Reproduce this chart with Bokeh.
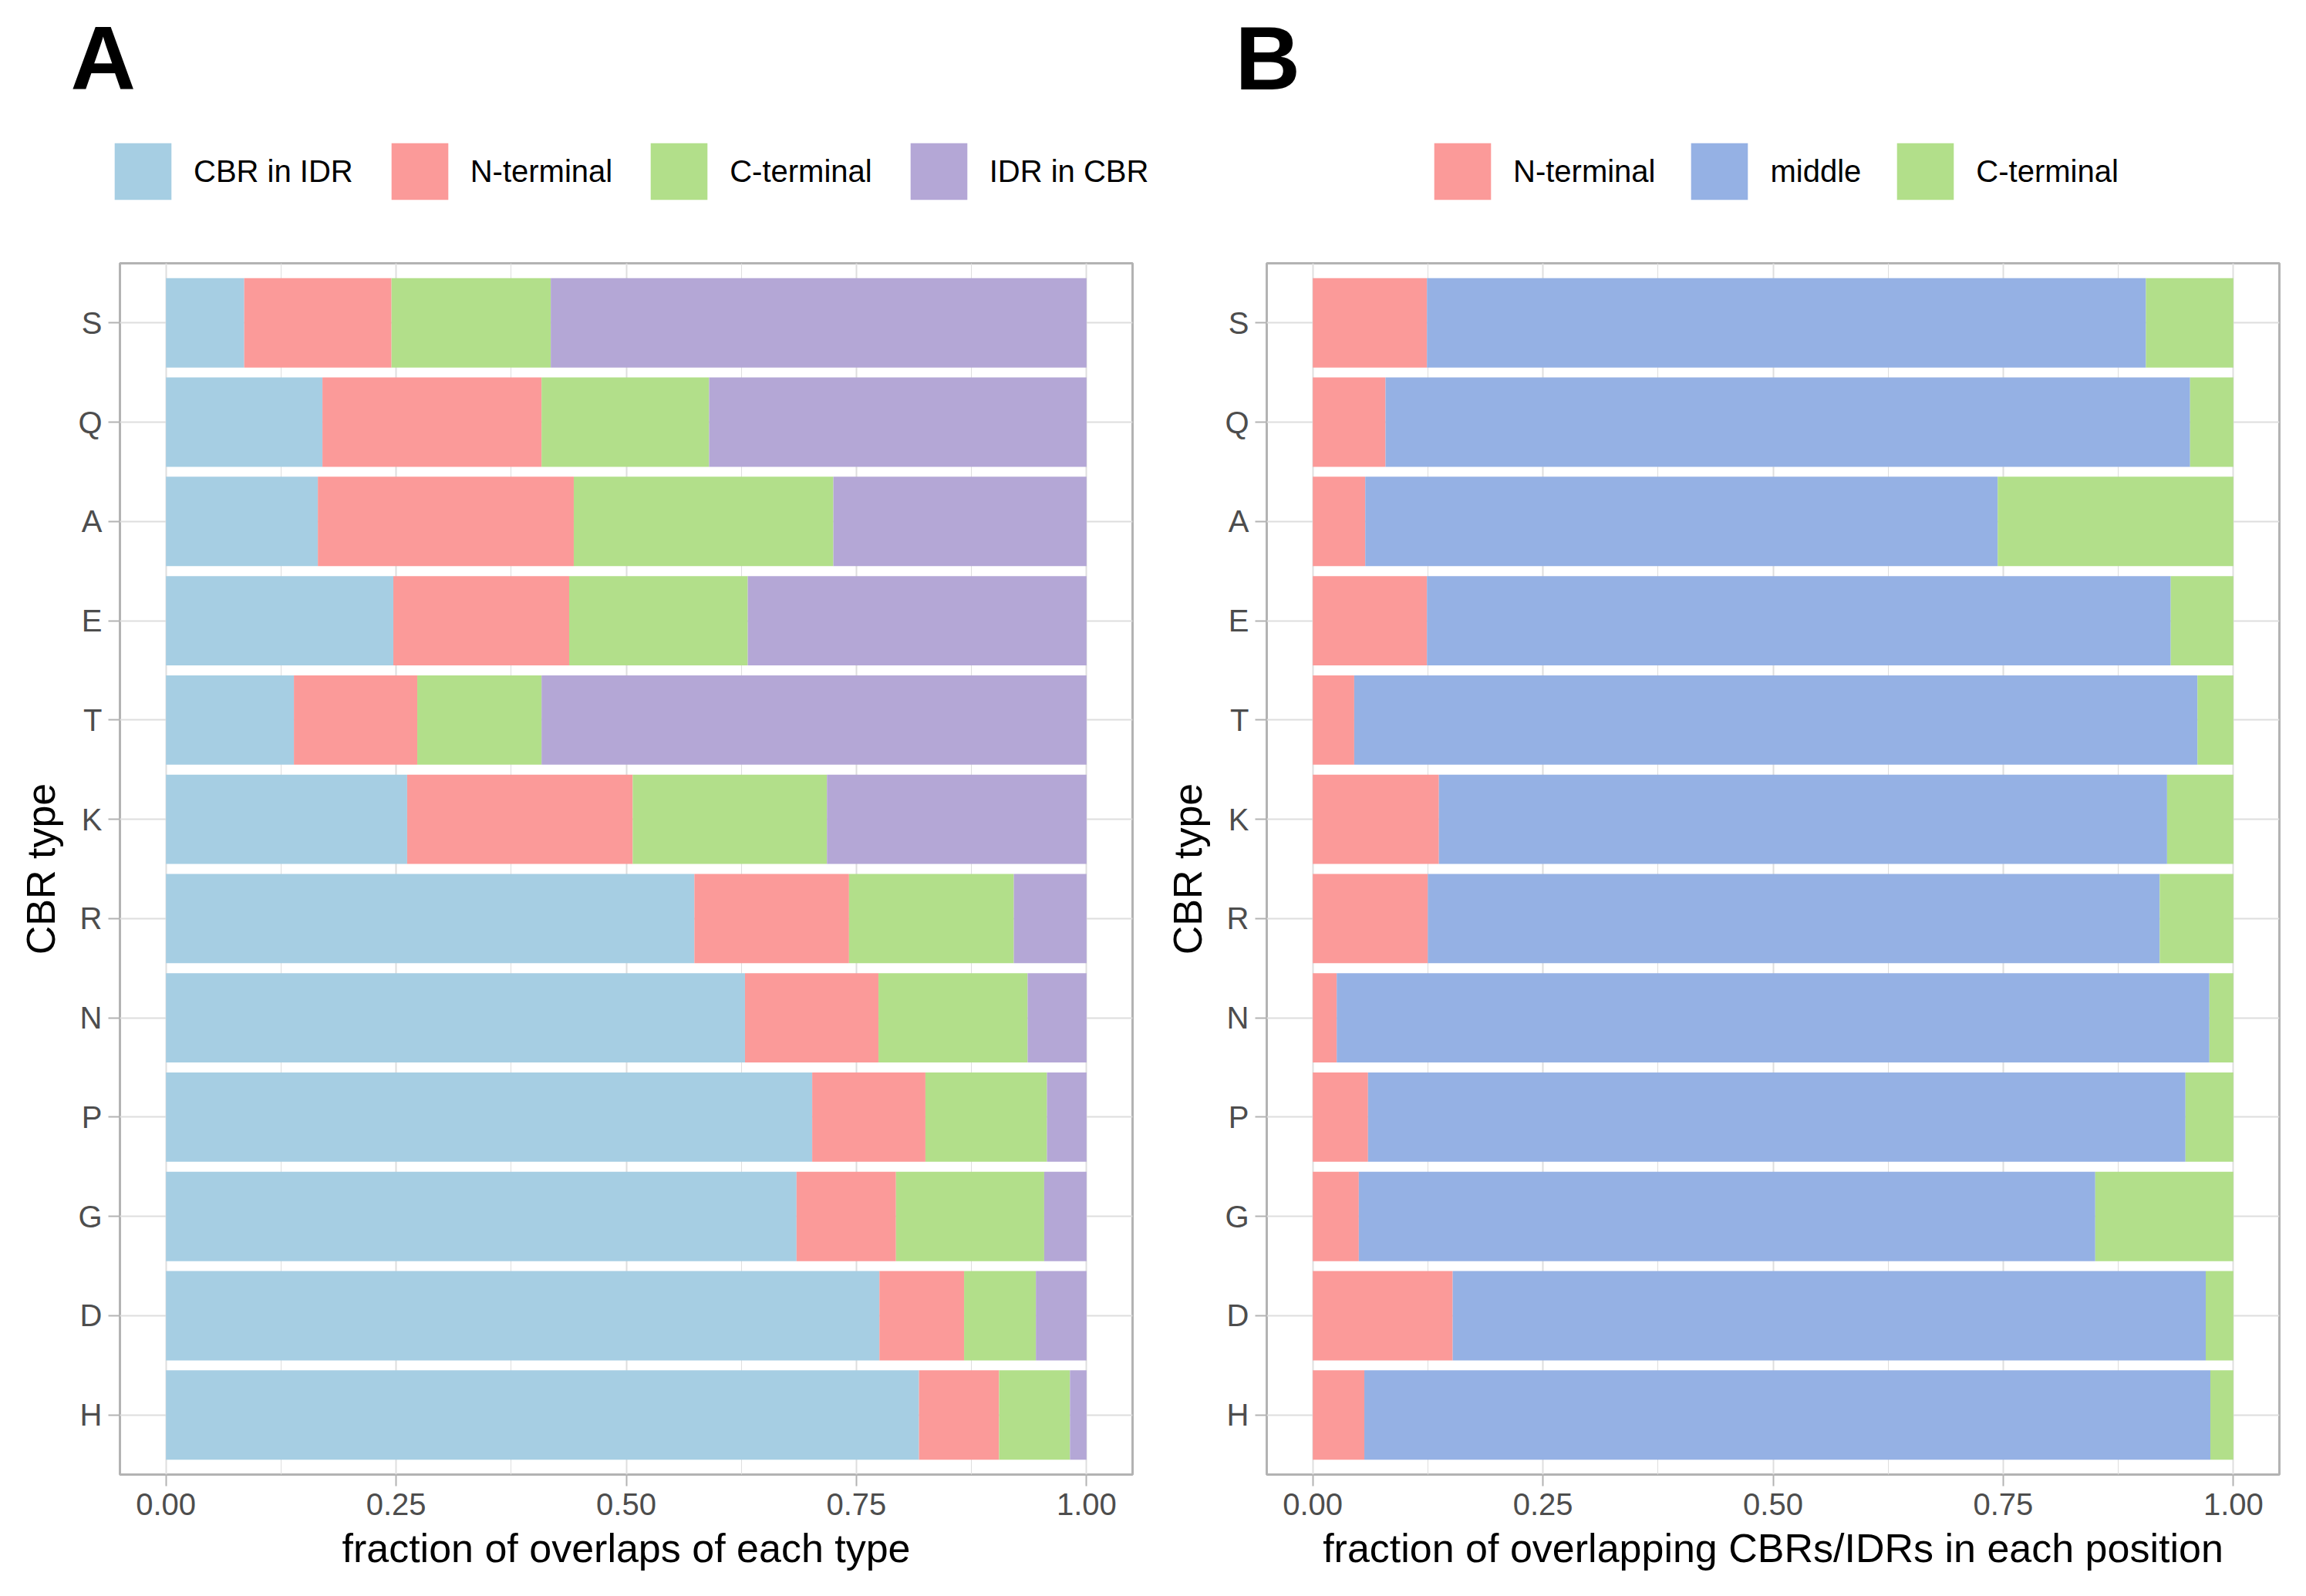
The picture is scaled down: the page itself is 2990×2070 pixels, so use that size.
from bokeh.plotting import figure
from bokeh.models import (Range1d, FactorRange, ColumnDataSource, Legend, LegendItem,
                          Label, FixedTicker)
from bokeh.layouts import row, column
from bokeh.embed import file_html
from bokeh.resources import INLINE

# ---------------- data ----------------
cbr_types = ["S", "Q", "A", "E", "T", "K", "R", "N", "P", "G", "D", "H"]

# Panel A: fraction of overlaps of each type (segments, left to right)
a_series = ["CBR in IDR", "N-terminal", "C-terminal", "IDR in CBR"]
a_cbr_in_idr = [0.085, 0.170, 0.165, 0.247, 0.139, 0.262, 0.574, 0.629, 0.702, 0.685, 0.775, 0.818]
a_n_terminal = [0.160, 0.238, 0.278, 0.191, 0.134, 0.245, 0.168, 0.145, 0.123, 0.108, 0.092, 0.087]
a_c_terminal = [0.173, 0.182, 0.282, 0.194, 0.135, 0.211, 0.179, 0.162, 0.132, 0.161, 0.078, 0.077]
a_idr_in_cbr = [0.582, 0.410, 0.275, 0.368, 0.592, 0.282, 0.079, 0.064, 0.043, 0.046, 0.055, 0.018]

# Panel B: fraction of overlapping CBRs/IDRs in each position
b_series = ["N-terminal", "middle", "C-terminal"]
b_n_terminal = [0.124, 0.079, 0.057, 0.124, 0.045, 0.137, 0.125, 0.026, 0.060, 0.050, 0.152, 0.056]
b_middle     = [0.781, 0.874, 0.687, 0.808, 0.916, 0.791, 0.795, 0.948, 0.888, 0.800, 0.818, 0.919]
b_c_terminal = [0.095, 0.047, 0.256, 0.068, 0.039, 0.072, 0.080, 0.026, 0.052, 0.150, 0.030, 0.025]

x_ticks = [0.0, 0.25, 0.5, 0.75, 1.0]
x_tick_labels = ["0.00", "0.25", "0.50", "0.75", "1.00"]
x_minor_ticks = [0.125, 0.375, 0.625, 0.875]

a_colors = ["#A6CEE3", "#FB9A99", "#B2DF8A", "#B4A7D6"]
b_colors = ["#FB9A99", "#95B1E4", "#B2DF8A"]

FONT = "Liberation Sans"
GRID = "#DEDEDE"
FRAME = "#B3B3B3"
HEADER_H = 331
KEY_BOX = 92          # legend glyph box (the drawn key is inset by 10% per side)
INSET = 9


def make_header(series, colors, letter, letter_x, legend_x, spacing):
    h = figure(width=1495, height=HEADER_H, x_range=Range1d(0, 1495),
               y_range=Range1d(0, HEADER_H), x_axis_type=None, y_axis_type=None,
               min_border=0, title=None, toolbar_location=None,
               output_backend="svg")
    h.outline_line_color = None
    h.background_fill_color = "white"
    h.border_fill_color = "white"
    rs = []
    for c in colors:
        rs.append(h.hbar(y=[-1000], left=[0], right=[1], height=1,
                         fill_color=c, line_color=None))
    items = [LegendItem(label=s, renderers=[r]) for s, r in zip(series, rs)]
    legend = Legend(items=items, orientation="horizontal",
                    location=(legend_x - INSET, HEADER_H - 259 - INSET),
                    glyph_width=KEY_BOX, glyph_height=KEY_BOX, label_standoff=20,
                    spacing=spacing, padding=0, margin=0,
                    border_line_color=None, background_fill_alpha=0,
                    label_text_font=FONT, label_text_font_size="40px",
                    label_text_color="black", label_text_baseline="middle")
    h.add_layout(legend, "center")
    h.add_layout(Label(x=letter_x, y=HEADER_H - 119 + 44, text=letter, text_font=FONT,
                       text_font_size="117px", text_font_style="bold",
                       text_color="black", text_baseline="alphabetic",
                       text_align="left"))
    return h


def make_panel(values, colors, xlabel, left, right):
    data = {"cbr": cbr_types}
    keys = []
    for i, v in enumerate(values):
        k = "s%d" % i
        data[k] = v
        keys.append(k)
    src = ColumnDataSource(data)

    p = figure(width=1495, height=10 + 1571 + 150,
               x_range=Range1d(-0.05, 1.05),
               y_range=FactorRange(factors=list(reversed(cbr_types)),
                                   range_padding=1.0 / 60, range_padding_units="percent"),
               output_backend="svg", toolbar_location=None, title=None,
               min_border_left=left, min_border_right=right,
               min_border_top=10, min_border_bottom=150)
    p.background_fill_color = "white"
    p.border_fill_color = "white"
    p.outline_line_color = FRAME
    p.outline_line_width = 3

    p.hbar_stack(keys, y="cbr", height=0.9, color=colors, line_width=0,
                 line_color=None, source=src)

    ticker = FixedTicker(ticks=x_ticks, minor_ticks=x_minor_ticks)
    p.xaxis.ticker = ticker
    p.xaxis.major_label_overrides = {t: l for t, l in zip(x_ticks, x_tick_labels)}
    for ax in (p.xaxis[0], p.yaxis[0]):
        ax.axis_line_color = None
        ax.major_tick_line_color = FRAME
        ax.major_tick_line_width = 2
        ax.major_tick_out = 15
        ax.major_tick_in = 0
        ax.minor_tick_line_color = None
        ax.major_label_text_font = FONT
        ax.major_label_text_font_size = "40px"
        ax.major_label_text_color = "#4D4D4D"
        ax.axis_label_text_font = FONT
        ax.axis_label_text_font_size = "52px"
        ax.axis_label_text_font_style = "normal"
        ax.axis_label_text_color = "black"
    p.xaxis.axis_label = xlabel
    p.xaxis.major_label_standoff = 9
    p.xaxis.axis_label_standoff = 11
    p.yaxis.axis_label = "CBR type"
    p.yaxis.major_label_standoff = 8
    p.yaxis.axis_label_standoff = 16

    p.xgrid.grid_line_color = GRID
    p.xgrid.grid_line_width = 2
    p.xgrid.minor_grid_line_color = GRID
    p.xgrid.minor_grid_line_width = 1
    p.ygrid.grid_line_color = GRID
    p.ygrid.grid_line_width = 2
    return p


ha = make_header(a_series, a_colors, "A", 91, 148, 40)
hb = make_header(b_series, b_colors, "B", 106, 1859 - 1495, 37)
pa = make_panel([a_cbr_in_idr, a_n_terminal, a_c_terminal, a_idr_in_cbr],
                a_colors, "fraction of overlaps of each type", 155, 27)
pb = make_panel([b_n_terminal, b_middle, b_c_terminal],
                b_colors, "fraction of overlapping CBRs/IDRs in each position", 147, 35)

layout = column(row(ha, hb, spacing=0), row(pa, pb, spacing=0), spacing=0)
open("out.html", "w").write(file_html(layout, INLINE))
